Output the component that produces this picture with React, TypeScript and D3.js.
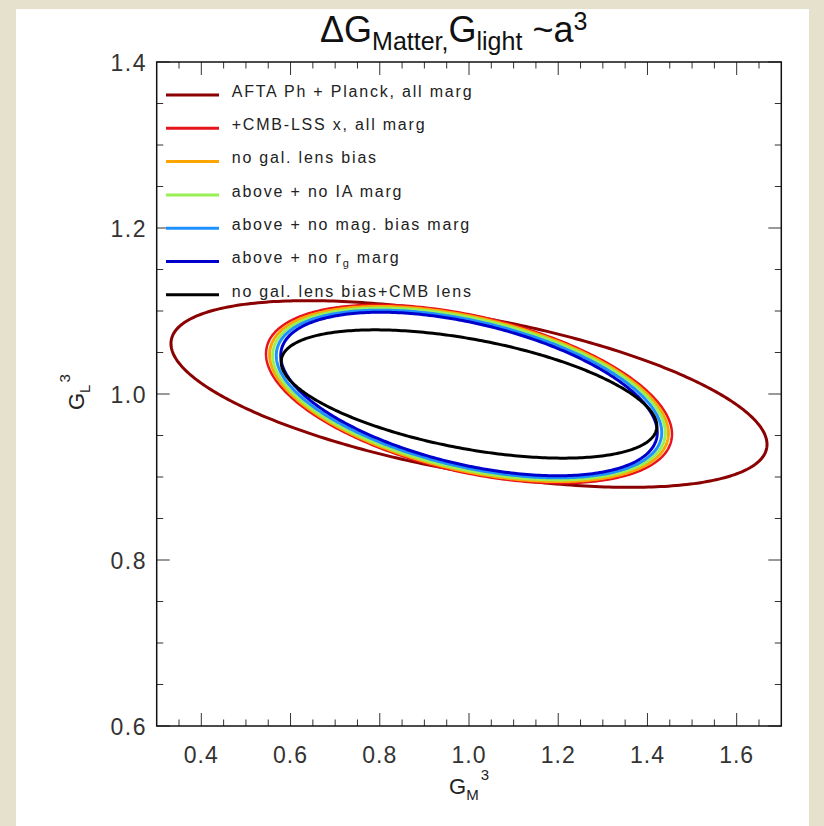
import * as d3 from 'd3';

// contour labels and colours, outermost first
const labels = [
  'AFTA Ph + Planck, all marg',
  '+CMB-LSS x, all marg',
  'no gal. lens bias',
  'above + no IA marg',
  'above + no mag. bias marg',
  'above + no r_g marg',
  'no gal. lens bias+CMB lens',
];
const colors = ['#8b0000', '#e8141c', '#ffa500', '#99f055', '#1e90ff', '#0000cc', '#000000'];

// ellipse parameters (data units)
const centerX = [1.0, 1.0, 1.0, 1.0, 1.0, 1.0, 1.0];
const centerY = [1.0, 1.0, 1.0, 1.0, 1.0, 1.0, 1.0];
const halfX = [0.668, 0.455, 0.447, 0.44, 0.432, 0.422, 0.421];
const halfY = [0.1125, 0.1075, 0.1055, 0.1035, 0.101, 0.0985, 0.0773];
const rho = [-0.54, -0.45, -0.45, -0.45, -0.46, -0.47, -0.5];

const xMajor = [0.4, 0.6, 0.8, 1.0, 1.2, 1.4, 1.6];
const yMajor = [0.6, 0.8, 1.0, 1.2, 1.4];

const W = 824;
const H = 826;
const left = 156.7, right = 781.3, top = 62, bottom = 726;

const x = d3.scaleLinear().domain([0.3, 1.7]).range([left, right]);
const y = d3.scaleLinear().domain([0.6, 1.4]).range([bottom, top]);

const xMinor = d3.range(0.35, 1.7, 0.05).filter(v => !xMajor.some(m => Math.abs(m - v) < 1e-6));
const yMinor = d3.range(0.65, 1.4, 0.05).filter(v => !yMajor.some(m => Math.abs(m - v) < 1e-6));

const line = d3.line<[number, number]>().x(d => x(d[0])).y(d => y(d[1])).curve(d3.curveLinearClosed);

function ellipse(i: number) {
  const s = Math.sqrt(1 - rho[i] * rho[i]);
  return d3.range(0, 360, 1).map(a => {
    const t = (a * Math.PI) / 180;
    return [
      centerX[i] + halfX[i] * Math.cos(t),
      centerY[i] + halfY[i] * (rho[i] * Math.cos(t) + s * Math.sin(t)),
    ] as [number, number];
  });
}

const widths = [3, 2.5, 3, 3, 3, 3, 3];
const tickFont = '"Liberation Sans", Arial, sans-serif';

export default function App() {
  return (
    <svg width={W} height={H} style={{ position: 'absolute', left: 0, top: 0 }}>
      <rect x={0} y={0} width={W} height={H} fill="#e5e1cd" />
      <rect x={16} y={9} width={793} height={H - 9} fill="#ffffff" />

      {/* title */}
      <text x={320} y={42} fontFamily={tickFont} fontSize={36} fill="#111">
        <tspan>ΔG</tspan>
        <tspan fontSize={25} dy={8}>Matter,</tspan>
        <tspan dy={-8}>G</tspan>
        <tspan fontSize={25} dy={8}>light</tspan>
        <tspan dy={-8}> ~a</tspan>
        <tspan fontSize={25} dy={-12}>3</tspan>
      </text>

      {/* contours */}
      {labels.map((_, i) => (
        <path key={i} d={line(ellipse(i)) ?? ''} fill="none" stroke={colors[i]} strokeWidth={widths[i]} />
      ))}

      {/* ticks, mirrored on all sides */}
      <g stroke="#333" strokeWidth={1}>
        {xMajor.map(v => (
          <g key={'xM' + v}>
            <line x1={x(v)} x2={x(v)} y1={bottom} y2={bottom - 13} />
            <line x1={x(v)} x2={x(v)} y1={top} y2={top + 13} />
          </g>
        ))}
        {xMinor.map(v => (
          <g key={'xm' + v}>
            <line x1={x(v)} x2={x(v)} y1={bottom} y2={bottom - 6.5} />
            <line x1={x(v)} x2={x(v)} y1={top} y2={top + 6.5} />
          </g>
        ))}
        {yMajor.map(v => (
          <g key={'yM' + v}>
            <line x1={left} x2={left + 13} y1={y(v)} y2={y(v)} />
            <line x1={right} x2={right - 13} y1={y(v)} y2={y(v)} />
          </g>
        ))}
        {yMinor.map(v => (
          <g key={'ym' + v}>
            <line x1={left} x2={left + 6.5} y1={y(v)} y2={y(v)} />
            <line x1={right} x2={right - 6.5} y1={y(v)} y2={y(v)} />
          </g>
        ))}
      </g>
      <rect x={left} y={top} width={right - left} height={bottom - top} fill="none" stroke="#111" strokeWidth={1.5} />

      {/* tick labels */}
      {xMajor.map(v => (
        <text key={'xl' + v} x={x(v)} y={763} textAnchor="middle" fontFamily={tickFont} fontSize={23}
          letterSpacing={1} fill="#333">{v.toFixed(1)}</text>
      ))}
      {yMajor.map(v => (
        <text key={'yl' + v} x={147} y={y(v) + 9} textAnchor="end" fontFamily={tickFont} fontSize={23}
          letterSpacing={1.5} fill="#333">{v.toFixed(1)}</text>
      ))}

      {/* axis titles */}
      <text x={449} y={794} fontFamily={tickFont} fontSize={22} fill="#222">
        G<tspan fontSize={15} dy={6}>M</tspan><tspan fontSize={15} dx={2} dy={-20}>3</tspan>
      </text>
      <text transform="translate(84,410) rotate(-90)" fontFamily={tickFont} fontSize={22} fill="#222">
        G<tspan fontSize={15} dy={6}>L</tspan><tspan fontSize={15} dx={2} dy={-20}>3</tspan>
      </text>

      {/* legend */}
      {labels.map((lab, i) => {
        const ly = 95 + i * 33.3;
        const parts = lab.split('_');
        return (
          <g key={'lg' + i}>
            <line x1={166} x2={219} y1={ly} y2={ly} stroke={colors[i]} strokeWidth={3} />
            <text x={231.7} y={ly + 1.7} fontFamily={tickFont} fontSize={16} letterSpacing={1.8} fill="#222">
              {parts[0]}
              {parts.length > 1 && (
                <>
                  <tspan fontSize={11} dy={4}>{parts[1].split(' ')[0]}</tspan>
                  <tspan dy={-4}>{' ' + parts[1].split(' ').slice(1).join(' ')}</tspan>
                </>
              )}
            </text>
          </g>
        );
      })}
    </svg>
  );
}
